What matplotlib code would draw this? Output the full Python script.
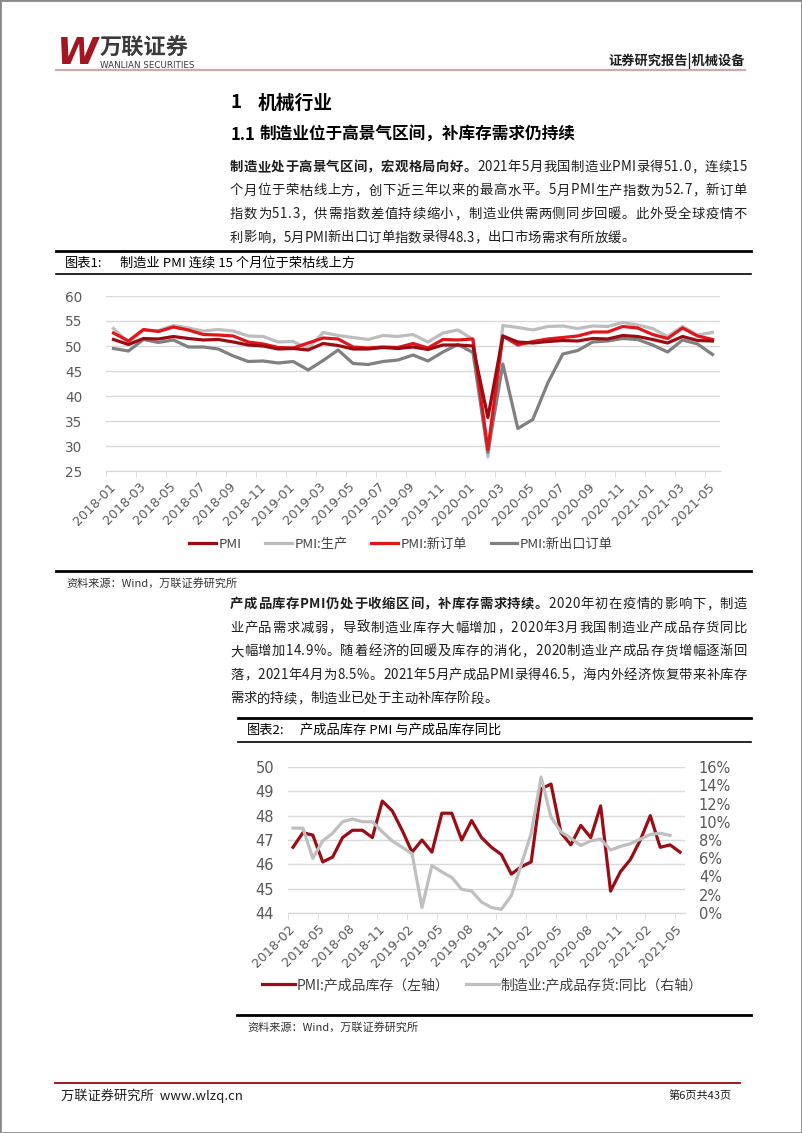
import numpy as np
import pandas as pd
import matplotlib
matplotlib.use("Agg")
import matplotlib.pyplot as plt
from matplotlib.lines import Line2D

plt.rcParams['font.family'] = ['Noto Sans CJK SC', 'DejaVu Sans']

# ---------------- data ----------------
months1 = list(pd.period_range('2018-01', '2021-05', freq='M').strftime('%Y-%m'))
pmi = [51.3, 50.3, 51.5, 51.4, 51.9, 51.5, 51.2, 51.3, 50.8, 50.2, 50.0, 49.4,
       49.5, 49.2, 50.5, 50.1, 49.4, 49.4, 49.7, 49.5, 49.8, 49.3, 50.2, 50.2,
       50.0, 35.7, 52.0, 50.8, 50.6, 50.9, 51.1, 51.0, 51.5, 51.4, 52.1, 51.9,
       51.3, 50.6, 51.9, 51.1, 51.0]
pmi_prod = [53.5, 50.7, 53.1, 53.1, 54.1, 53.6, 53.0, 53.3, 53.0, 52.0, 51.9, 50.8,
            50.9, 49.5, 52.7, 52.1, 51.7, 51.3, 52.1, 51.9, 52.3, 50.8, 52.6, 53.2,
            51.3, 27.8, 54.1, 53.7, 53.2, 53.9, 54.0, 53.5, 54.0, 53.9, 54.7, 54.2,
            53.5, 51.9, 53.9, 52.2, 52.7]
pmi_neworder = [52.6, 51.0, 53.3, 52.9, 53.8, 53.2, 52.3, 52.2, 52.0, 50.8, 50.4, 49.7,
                49.6, 50.6, 51.6, 51.4, 49.8, 49.6, 49.8, 49.7, 50.5, 49.6, 51.3, 51.2,
                51.4, 29.3, 52.0, 50.2, 50.9, 51.4, 51.7, 52.0, 52.8, 52.8, 53.9, 53.6,
                52.3, 51.5, 53.6, 52.0, 51.3]
pmi_export = [49.5, 49.0, 51.3, 50.7, 51.2, 49.8, 49.8, 49.4, 48.0, 46.9, 47.0, 46.6,
              46.9, 45.2, 47.1, 49.2, 46.5, 46.3, 46.9, 47.2, 48.2, 47.0, 48.8, 50.3,
              48.7, 28.7, 46.4, 33.5, 35.3, 42.6, 48.4, 49.1, 50.8, 51.0, 51.5, 51.3,
              50.2, 48.8, 51.2, 50.4, 48.3]

months2 = list(pd.period_range('2018-02', '2021-05', freq='M').strftime('%Y-%m'))
inv_pmi = [46.7, 47.3, 47.2, 46.1, 46.3, 47.1, 47.4, 47.4, 47.1, 48.6, 48.2,
           47.4, 46.5, 47.0, 46.5, 48.1, 48.1, 47.0, 47.8, 47.1, 46.7, 46.4, 45.6,
           45.9, 46.1, 49.1, 49.3, 47.3, 46.8, 47.6, 47.1, 48.4, 44.9, 45.7, 46.2,
           47.0, 48.0, 46.7, 46.8, 46.5]
nan = np.nan
inv_yoy = [9.3, 9.3, 6.0, 7.9, 8.75, 10.0, 10.3, 10.0, 10.0, 8.9, 7.9,
           nan, 6.5, 0.6, 5.2, 4.5, 3.9, 2.6, 2.4, 1.2, 0.6, 0.4, 1.9,
           nan, 8.7, 14.9, 10.5, 8.9, 8.2, 7.4, 7.9, 8.1, 6.9, 7.3, 7.6,
           nan, 8.6, 8.75, 8.5, nan]

W, H = 802, 1133


def fx(px):
    return px / W


def fy(py):
    return 1 - py / H


fig = plt.figure(figsize=(W / 100, H / 100), dpi=100)
fig.patch.set_facecolor('white')
r = fig.canvas.get_renderer()


def hline(x0, x1, y, color='k', lw=1.0):
    fig.add_artist(Line2D([fx(x0), fx(x1)], [fy(y), fy(y)], color=color, lw=lw))


def text_line(x0, y, parts, x1=None, size=9.6):
    # place char by char so the line can be justified like the report
    objs = []
    for s, bold in parts:
        for c in s:
            objs.append(fig.text(0, fy(y), c, fontsize=size, va='center', color='#1e1e1e',
                                 fontweight='bold' if bold else 'normal'))
    widths = [t.get_window_extent(r).width for t in objs]
    gap = 0.0
    if x1 is not None and len(objs) > 1:
        gap = (x1 - x0 - sum(widths)) / (len(objs) - 1)
    x = x0
    for t, w in zip(objs, widths):
        t.set_x(fx(x))
        x += w + gap


# ---------------- page frame / header / footer ----------------
fig.add_artist(plt.Rectangle((0, 0), 1, 1, fill=False, ec='#8a8a8a', lw=2,
                             transform=fig.transFigure))
fig.text(fx(57), fy(54), 'W', fontsize=27, color='#a3161f', fontweight='heavy',
         fontstyle='italic', family='DejaVu Sans', va='center')
fig.text(fx(100), fy(48), '万联证券', fontsize=16, color='#3b3b3b', fontweight='bold', va='center')
fig.text(fx(100), fy(66), 'WANLIAN SECURITIES', fontsize=6.3, color='#3b3b3b',
         family='DejaVu Sans', va='center')
fig.text(fx(745), fy(61), '证券研究报告|机械设备', fontsize=9.5, fontweight='bold',
         ha='right', va='center', color='#1e1e1e')
hline(56, 745, 70, color='#cfa9ab', lw=1.6)

hline(55, 740, 1083, color='#a3161f', lw=1.4)
fig.text(fx(61), fy(1096), '万联证券研究所  www.wlzq.cn', fontsize=9.5, va='center', color='#1e1e1e')
fig.text(fx(732), fy(1096), '第6页共43页', fontsize=8, ha='right', va='center', color='#1e1e1e')

# ---------------- text blocks ----------------
fig.text(fx(231), fy(103), '1', fontsize=13.5, fontweight='bold', va='center')
fig.text(fx(258), fy(103), '机械行业', fontsize=13.5, fontweight='bold', va='center')
fig.text(fx(231), fy(135), '1.1', fontsize=12, fontweight='bold', va='center')
fig.text(fx(260), fy(135), '制造业位于高景气区间，补库存需求仍持续', fontsize=12,
         fontweight='bold', va='center')

para1 = [
    [('制造业处于高景气区间，宏观格局向好。', True), ('2021年5月我国制造业PMI录得51.0，连续15', False)],
    [('个月位于荣枯线上方，创下近三年以来的最高水平。5月PMI生产指数为52.7，新订单', False)],
    [('指数为51.3，供需指数差值持续缩小，制造业供需两侧同步回暖。此外受全球疫情不', False)],
    [('利影响，5月PMI新出口订单指数录得48.3，出口市场需求有所放缓。', False)],
]
for i, parts in enumerate(para1):
    text_line(230, 167 + i * 23.5, parts, x1=747 if i < len(para1) - 1 else None)

para2 = [
    [('产成品库存PMI仍处于收缩区间，补库存需求持续。', True), ('2020年初在疫情的影响下，制造', False)],
    [('业产品需求减弱，导致制造业库存大幅增加，2020年3月我国制造业产成品存货同比', False)],
    [('大幅增加14.9%。随着经济的回暖及库存的消化，2020制造业产成品存货增幅逐渐回', False)],
    [('落，2021年4月为8.5%。2021年5月产成品PMI录得46.5，海内外经济恢复带来补库存', False)],
    [('需求的持续，制造业已处于主动补库存阶段。', False)],
]
for i, parts in enumerate(para2):
    text_line(230, 604 + i * 23.6, parts, x1=747 if i < len(para2) - 1 else None)

# ---------------- chart 1 ----------------
hline(56, 751, 251, lw=2.0)
fig.text(fx(65), fy(263), '图表1:', fontsize=9.5, va='center')
fig.text(fx(120), fy(263), '制造业 PMI 连续 15 个月位于荣枯线上方', fontsize=9.5, va='center')
hline(56, 751, 274, lw=1.2)

ax1 = fig.add_axes([fx(106), fy(471), (720 - 106) / W, (471 - 296) / H])
x1 = np.arange(len(months1))
l1, = ax1.plot(x1, pmi, color='#9c0b12', lw=2.3, label='PMI')
l2, = ax1.plot(x1, pmi_prod, color='#bdbdbd', lw=2.3, label='PMI:生产')
l3, = ax1.plot(x1, pmi_neworder, color='#e0161b', lw=2.3, label='PMI:新订单')
l4, = ax1.plot(x1, pmi_export, color='#808080', lw=2.3, label='PMI:新出口订单')
l3.set_zorder(3.5)
l1.set_zorder(3.6)
ax1.set_xlim(-0.5, len(months1) - 0.5)
ax1.set_ylim(25, 60)
ax1.set_yticks(range(25, 61, 5))
ax1.grid(axis='y', color='#d9d9d9', lw=1)
ax1.set_axisbelow(True)
for s in ['top', 'right', 'left']:
    ax1.spines[s].set_visible(False)
ax1.spines['bottom'].set_color('#d9d9d9')
ax1.set_xticks(x1[::2])
ax1.set_xticklabels(months1[::2], rotation=45, ha='right', va='center', rotation_mode='anchor')
ax1.set_xticks(np.arange(-0.5, len(months1), 2), minor=True)
ax1.tick_params(axis='x', which='major', length=0, pad=10, labelsize=9.3, labelcolor='#595959')
ax1.tick_params(axis='x', which='minor', length=4, color='#d9d9d9')
ax1.tick_params(axis='y', length=0, pad=17, labelsize=9.8, labelcolor='#595959')
for t in ax1.get_xticklabels() + ax1.get_yticklabels():
    t.set_family('DejaVu Sans')
fig.legend(handles=[l1, l2, l3, l4], loc='center', bbox_to_anchor=(fx(401), fy(544)),
           ncol=4, frameon=False, fontsize=9.5, handlelength=2.0, handletextpad=0.2,
           columnspacing=1.8, labelcolor='#404040')

hline(56, 751, 571, lw=2.0)
fig.text(fx(66), fy(583), '资料来源：Wind，万联证券研究所', fontsize=8, va='center',
         color='#333333', fontstyle='italic')

# ---------------- chart 2 ----------------
hline(238, 751, 718, lw=2.0)
fig.text(fx(247), fy(730), '图表2:', fontsize=9.5, va='center')
fig.text(fx(300), fy(730), '产成品库存 PMI 与产成品库存同比', fontsize=9.5, va='center')
hline(238, 751, 742, lw=1.2)

ax2 = fig.add_axes([fx(288), fy(913), (685 - 288) / W, (913 - 767) / H])
x2 = np.arange(len(months2))
r1, = ax2.plot(x2, inv_pmi, color='#9b0d14', lw=2.3, label='PMI:产成品库存（左轴）')
ax2.set_xlim(-0.5, len(months2) - 0.5)
ax2.set_ylim(44, 50)
ax2.set_yticks(range(44, 51))
ax2.grid(axis='y', color='#d9d9d9', lw=1)
ax2.set_axisbelow(True)
ax2b = ax2.twinx()
yoy = np.array(inv_yoy)
ok = ~np.isnan(yoy)
g1, = ax2b.plot(x2[ok], yoy[ok], color='#bfbfbf', lw=2.3, label='制造业:产成品存货:同比（右轴）')
ax2b.set_ylim(0, 16)
ax2b.set_yticks(range(0, 17, 2))
ax2b.set_yticklabels([f'{v}%' for v in range(0, 17, 2)])
for a in (ax2, ax2b):
    for s in ['top', 'right', 'left']:
        a.spines[s].set_visible(False)
    a.spines['bottom'].set_color('#d9d9d9')
ax2.set_xticks(x2[::3])
ax2.set_xticklabels(months2[::3], rotation=45, ha='right', va='center', rotation_mode='anchor')
ax2.set_xticks(np.arange(-0.5, len(months2), 3), minor=True)
ax2.tick_params(axis='x', which='major', length=0, pad=10, labelsize=9.3, labelcolor='#595959')
ax2.tick_params(axis='x', which='minor', length=4, color='#d9d9d9')
ax2.tick_params(axis='y', length=0, pad=10, labelsize=10.5, labelcolor='#595959')
ax2b.tick_params(axis='y', length=0, pad=10, labelsize=10.5, labelcolor='#595959')
for t in ax2.get_xticklabels() + ax2.get_yticklabels() + ax2b.get_yticklabels():
    t.set_family('DejaVu Sans')
fig.legend(handles=[r1, g1], loc='center', bbox_to_anchor=(fx(482), fy(985)),
           ncol=2, frameon=False, fontsize=10, handlelength=2.4, handletextpad=0.1,
           columnspacing=1.2, labelcolor='#404040')

hline(237, 751, 1015, lw=2.0)
fig.text(fx(247), fy(1027), '资料来源：Wind，万联证券研究所', fontsize=8, va='center',
         color='#333333', fontstyle='italic')

fig.savefig('out.png', dpi=100)
